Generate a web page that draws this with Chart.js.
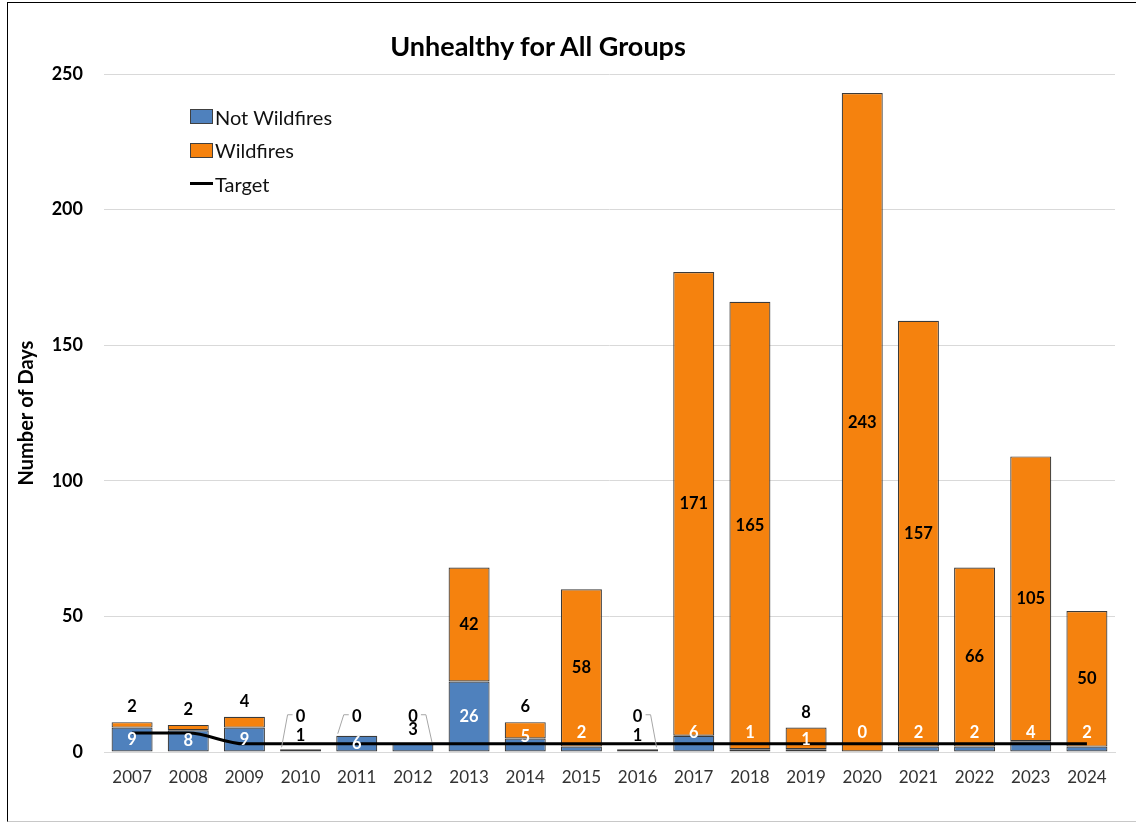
<!DOCTYPE html>
<html>
<head>
<meta charset="utf-8">
<script src="https://cdn.jsdelivr.net/npm/chart.js@4.4.1/dist/chart.umd.min.js"></script>
<style>
  body { margin: 0; background: #fff; font-family: Lato, sans-serif; }
  #wrap { position: relative; width: 1136px; height: 825px; overflow: hidden; }
  #frame { position: absolute; left: 7px; top: 2px; width: 1200px; height: 818px;
           border-left: 1.5px solid #000; border-top: 1.5px solid #000; border-bottom: 1px solid #c8c8c8; }
  #title { position: absolute; left: 0; width: 1076px; top: 29px; text-align: center;
           font: bold 27px Lato, sans-serif; color: #000; }
  #legend { position: absolute; left: 190px; top: 100px; font: 20px Lato, sans-serif; color: #111; }
  #legend div { height: 33.5px; display: flex; align-items: center; }
  #legend .box { width: 21px; height: 13px; border: 1px solid #404040; margin-right: 2px; }
  #legend .line { width: 23px; height: 3px; background: #000; margin-right: 2px; }
</style>
</head>
<body>
<div id="wrap">
  <canvas id="chart" width="1136" height="825"></canvas>
  <div id="frame"></div>
  <div id="title">Unhealthy for All Groups</div>
  <div id="legend">
    <div><span class="box" style="background:#4f81bd"></span>Not Wildfires</div>
    <div><span class="box" style="background:#f5820e"></span>Wildfires</div>
    <div><span class="line"></span>Target</div>
  </div>
</div>
<script>
const years = ['2007', '2008', '2009', '2010', '2011', '2012', '2013', '2014', '2015',
               '2016', '2017', '2018', '2019', '2020', '2021', '2022', '2023', '2024'];
const notWildfires = [9, 8, 9, 1, 6, 3, 26, 5, 2, 1, 6, 1, 1, 0, 2, 2, 4, 2];
const wildfires = [2, 2, 4, 0, 0, 0, 42, 6, 58, 0, 171, 165, 8, 243, 157, 66, 105, 50];
const target = [7, 7, 3, 3, 3, 3, 3, 3, 3, 3, 3, 3, 3, 3, 3, 3, 3, 3];
const yMax = 250;
const yStep = 50;

// value labels drawn on top of bars and line
const barLabels = {
    id: 'barLabels',
    afterDatasetsDraw(chart) {
        const ctx = chart.ctx;
        const y = chart.scales.y;
        const blue = chart.getDatasetMeta(0).data;
        ctx.save();
        ctx.font = 'bold 16.5px Lato, sans-serif';
        ctx.textAlign = 'center';
        ctx.textBaseline = 'middle';

        years.forEach((yr, j) => {
            const nw = notWildfires[j];
            const wf = wildfires[j];
            const total = nw + wf;
            const x = blue[j].x;

            // Not Wildfires label
            if (wf === 0 && nw < 5) {
                ctx.fillStyle = '#000';
                ctx.fillText(nw, x, y.getPixelForValue(nw) - 14);
            } else if (wf === 0 || nw >= 8) {
                ctx.fillStyle = '#fff';
                ctx.fillText(nw, x, (y.getPixelForValue(0) + y.getPixelForValue(nw)) / 2);
            } else {
                ctx.fillStyle = '#fff';
                ctx.fillText(nw, x, y.getPixelForValue(Math.min(7, total / 2)));
            }

            // Wildfires label
            ctx.fillStyle = '#000';
            if (wf >= 20) {
                ctx.fillText(wf, x, (y.getPixelForValue(nw) + y.getPixelForValue(total)) / 2);
            } else if (wf > 0) {
                ctx.fillText(wf, x, y.getPixelForValue(total) - 15);
            } else {
                const ly = y.getPixelForValue(13);
                ctx.fillText('0', x, ly);
                const top = y.getPixelForValue(total) - 2;
                const side = j < 5 ? -1 : 1;
                ctx.strokeStyle = '#a6a6a6';
                ctx.lineWidth = 1;
                ctx.beginPath();
                ctx.moveTo(x + side * 8, ly - 2);
                ctx.lineTo(x + side * 13, ly - 2);
                ctx.lineTo(x + side * 19, top);
                ctx.stroke();
            }
        });
        ctx.restore();
    }
};

new Chart(document.getElementById('chart').getContext('2d'), {
    type: 'bar',
    data: {
        labels: years,
        datasets: [{
            label: 'Not Wildfires',
            data: notWildfires,
            backgroundColor: '#4f81bd',
            borderColor: '#3a3a3a',
            borderWidth: 1.2,
            borderSkipped: false,
            stack: 'days',
            order: 1
        }, {
            label: 'Wildfires',
            data: wildfires,
            backgroundColor: '#f5820e',
            borderColor: '#3a3a3a',
            borderWidth: 1.2,
            borderSkipped: false,
            stack: 'days',
            order: 1
        }, {
            type: 'line',
            label: 'Target',
            data: target,
            borderColor: '#000',
            borderWidth: 3,
            pointRadius: 0,
            cubicInterpolationMode: 'monotone',
            stack: 'target',
            order: 0
        }]
    },
    options: {
        responsive: false,
        animation: false,
        datasets: { bar: { categoryPercentage: 1, barPercentage: 0.73 } },
        layout: { padding: { top: 74, left: 7, right: 21, bottom: 0 } },
        plugins: {
            legend: { display: false },
            title: { display: false },
            tooltip: { enabled: false }
        },
        scales: {
            x: {
                stacked: true,
                grid: { display: false, drawTicks: false },
                border: { display: true, color: '#d9d9d9' },
                ticks: { color: '#333', padding: 15, font: { family: 'Lato', size: 17 } },
                afterFit(scale) { scale.height = 73; }
            },
            y: {
                stacked: true,
                min: 0,
                max: yMax,
                ticks: { stepSize: yStep, color: '#000', padding: 21,
                         font: { family: 'Lato', size: 18, weight: 'bold' } },
                grid: { color: '#d9d9d9', drawTicks: false },
                border: { display: false },
                title: { display: true, text: 'Number of Days', color: '#000',
                         padding: { top: 8, bottom: 0 },
                         font: { family: 'Lato', size: 20, weight: 'bold' } },
                afterFit(scale) { scale.width = 97; }
            }
        }
    },
    plugins: [barLabels]
});
</script>
</body>
</html>
